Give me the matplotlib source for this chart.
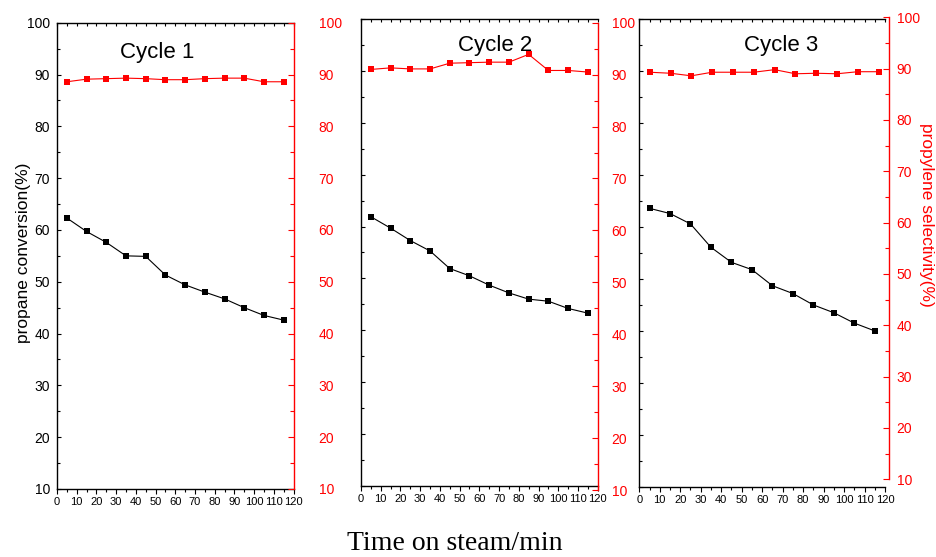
import matplotlib.pyplot as plt
from matplotlib.ticker import MultipleLocator

plt.rcParams['font.family'] = ['Liberation Sans', 'DejaVu Sans']

# time on steam (min) and the three regeneration cycles
time = [5, 15, 25, 35, 45, 55, 65, 75, 85, 95, 105, 115]
conv1 = [62.3, 59.7, 57.6, 55.0, 54.9, 51.3, 49.4, 48.0, 46.7, 45.0, 43.5, 42.6]
sel1 = [88.6, 89.1, 89.2, 89.3, 89.2, 89.0, 89.0, 89.2, 89.3, 89.3, 88.6, 88.6]
conv2 = [61.9, 59.7, 57.3, 55.3, 51.9, 50.5, 48.7, 47.2, 46.0, 45.6, 44.2, 43.3]
sel2 = [91.0, 91.3, 91.1, 91.1, 92.2, 92.3, 92.4, 92.4, 93.9, 90.8, 90.8, 90.5]
conv3 = [63.6, 62.6, 60.6, 56.1, 53.2, 51.8, 48.7, 47.2, 45.0, 43.5, 41.5, 40.0]
sel3 = [89.3, 89.1, 88.6, 89.3, 89.3, 89.3, 89.8, 89.0, 89.1, 89.0, 89.4, 89.4]
titles = ["Cycle 1", "Cycle 2", "Cycle 3"]

W, H = 937, 557
RED = '#ff0000'

def rect(x0, x1, y0, y1):
    # pixel box -> figure fraction
    return [x0 / W, 1 - y1 / H, (x1 - x0) / W, (y1 - y0) / H]

fig = plt.figure(figsize=(W / 100, H / 100), dpi=100)

# left (conversion) and right (selectivity) frames for each cycle, in pixels
left_boxes = [(57, 293.5, 22.7, 489), (361, 597.7, 19.3, 485.7), (639.3, 885, 19.3, 486.7)]
right_boxes = [(57, 293.5, 22.7, 489), (361, 597.7, 22.7, 490), (639.3, 889, 17.3, 479.3)]
convs = [conv1, conv2, conv3]
sels = [sel1, sel2, sel3]
title_pos = [(50.7, 93.1), (68.1, 93.9), (69.3, 93.8)]
right_pad = [18, 10, 5.5]

for i in range(3):
    ax = fig.add_axes(rect(*left_boxes[i]))
    axr = fig.add_axes(rect(*right_boxes[i]))
    axr.patch.set_visible(False)

    for a in (ax, axr):
        a.set_xlim(0, 120)
        a.set_ylim(10, 100)

    ax.plot(time, convs[i], color='black', marker='s', ms=5, mew=0, lw=0.8)
    axr.plot(time, sels[i], color=RED, marker='s', ms=5, mew=0, lw=0.8)

    # conversion axis: black frame on left/top/bottom
    ax.spines['right'].set_visible(False)
    for s in ('left', 'top', 'bottom'):
        ax.spines[s].set_linewidth(1.0)
    ax.xaxis.set_major_locator(MultipleLocator(10))
    ax.xaxis.set_minor_locator(MultipleLocator(5))
    ax.yaxis.set_major_locator(MultipleLocator(10))
    ax.yaxis.set_minor_locator(MultipleLocator(5))
    ax.tick_params(axis='x', which='major', direction='out', length=3.6, width=0.8,
                   labelsize=8, pad=2.5)
    ax.tick_params(axis='x', which='minor', direction='out', length=2.2, width=0.8)
    ax.tick_params(axis='y', which='major', direction='in', length=3, width=0.8,
                   labelsize=10, pad=5, labelleft=(i == 0))
    ax.tick_params(axis='y', which='minor', direction='in', length=2, width=0.8)

    # small inward marks along the upper frame
    secx = ax.secondary_xaxis('top')
    secx.xaxis.set_major_locator(MultipleLocator(5))
    secx.tick_params(direction='in', length=2.2, width=0.8, labeltop=False)
    secx.spines['top'].set_visible(False)

    # selectivity axis: red spine on the right only
    for s in ('left', 'top', 'bottom'):
        axr.spines[s].set_visible(False)
    axr.spines['right'].set_color(RED)
    axr.spines['right'].set_linewidth(1.0)
    axr.set_xticks([])
    axr.yaxis.tick_right()
    axr.yaxis.set_major_locator(MultipleLocator(10))
    axr.yaxis.set_minor_locator(MultipleLocator(5))
    axr.tick_params(axis='y', which='major', direction='in', length=4.5, width=0.8,
                    color=RED, labelcolor=RED, labelsize=10, pad=right_pad[i])
    axr.tick_params(axis='y', which='minor', direction='in', length=3, width=0.8, color=RED)

    ax.text(title_pos[i][0], title_pos[i][1], titles[i], fontsize=16, ha='center', va='baseline')

    if i == 0:
        ax.set_ylabel("propane conversion(%)", fontsize=12.5)
        ax.yaxis.set_label_coords(-0.112, 0.507)
    if i == 2:
        axr.set_ylabel("propylene selectivity(%)", fontsize=12.5, color=RED, rotation=270)
        axr.yaxis.set_label_position('right')
        axr.yaxis.set_label_coords(1.18, 0.572)

fig.text(455 / W, 1 - 550 / H, "Time on steam/min", fontsize=20, ha='center', va='baseline',
         family=['Liberation Serif', 'DejaVu Serif'])

fig.savefig('out.png', dpi=100)
